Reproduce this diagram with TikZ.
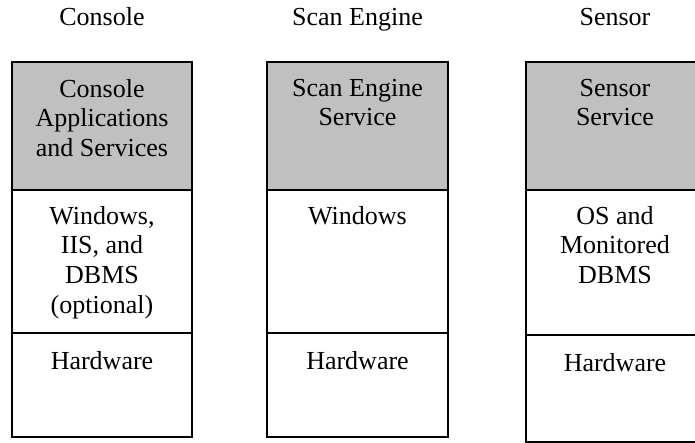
\documentclass[tikz,border=0pt]{standalone}
\usepackage{fontspec}
\setmainfont{Liberation Serif}
\definecolor{cellgray}{HTML}{C0C0C0}
\begin{document}
\begin{tikzpicture}[x=1pt,y=1pt,
  cell/.style={draw=black, line width=1.8pt, rectangle, inner sep=0pt, minimum width=#1},
  graycell/.style={cell=#1, fill=cellgray},
  txt/.style={font=\fontsize{26}{29.7}\selectfont, align=center, anchor=base, inner sep=0pt},
  ttl/.style={font=\fontsize{26}{29.7}\selectfont, anchor=base, inner sep=0pt}]
\useasboundingbox (0,0) rectangle (695,443);
\clip (0,0) rectangle (695,443);
% Console column
\node[graycell=180pt, minimum height=128pt] (c1) at (102,317) {};
\node[cell=180pt, minimum height=143pt] (c2) at (102,181.5) {};
\node[cell=180pt, minimum height=104pt] (c3) at (102,58) {};
% Scan Engine column
\node[graycell=181pt, minimum height=128pt] (s1) at (357.5,317) {};
\node[cell=181pt, minimum height=143pt] (s2) at (357.5,181.5) {};
\node[cell=181pt, minimum height=104pt] (s3) at (357.5,58) {};
% Sensor column
\node[graycell=178pt, minimum height=128pt] (n1) at (615,317) {};
\node[cell=178pt, minimum height=145pt] (n2) at (615,180.5) {};
\node[cell=178pt, minimum height=107pt] (n3) at (615,54.5) {};
% titles
\node[ttl] (tc) at (102,417) {Console};
\node[ttl] (ts) at (357.5,417) {Scan Engine};
\node[ttl] (tn) at (615,417) {Sensor};
% texts (anchor base = baseline of last line)
\node[txt] (c1t) at ([yshift=-95.4pt]c1.north) {Console\\Applications\\and Services};
\node[txt] (c2t) at ([yshift=-124.1pt]c2.north) {Windows,\\IIS, and\\DBMS\\(optional)};
\node[txt] (c3t) at ([yshift=-37pt]c3.north) {Hardware};
\node[txt] (s1t) at ([yshift=-64.7pt]s1.north) {Scan Engine\\Service};
\node[txt] (s2t) at ([yshift=-35pt]s2.north) {Windows};
\node[txt] (s3t) at ([yshift=-37pt]s3.north) {Hardware};
\node[txt] (n1t) at ([yshift=-64.7pt]n1.north) {Sensor\\Service};
\node[txt] (n2t) at ([yshift=-94.4pt]n2.north) {OS and\\Monitored\\DBMS};
\node[txt] (n3t) at ([yshift=-37pt]n3.north) {Hardware};
\end{tikzpicture}
\end{document}
